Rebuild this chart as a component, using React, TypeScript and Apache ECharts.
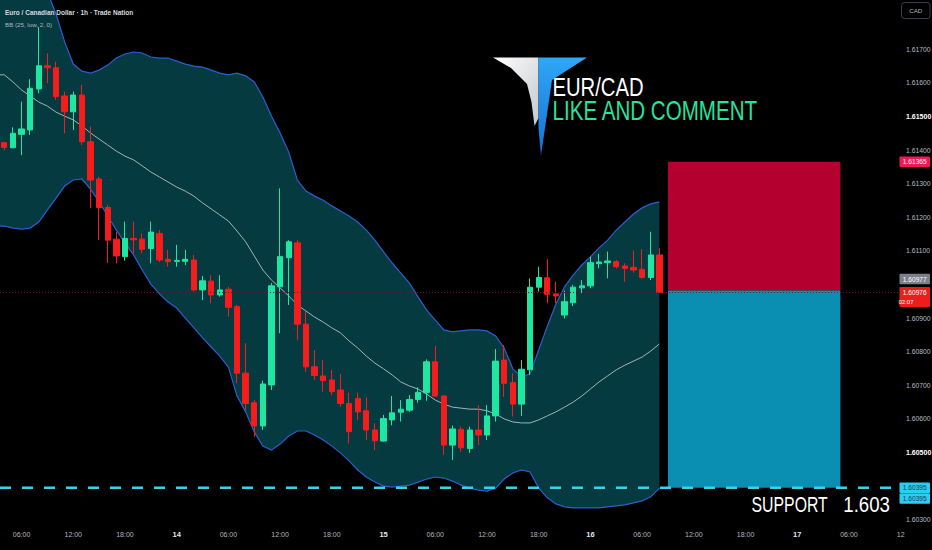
import React, { useEffect, useRef } from 'react';
import * as echarts from 'echarts';

// ---------- time slots (hourly, relative to day 14 00:00) ----------
const FIRST_HOUR = -20;
const SLOT_COUNT = 105;
const CATEGORIES: string[] = Array.from({ length: SLOT_COUNT }, (_, i) => {
  const h = FIRST_HOUR + i;
  const day = 14 + Math.floor(h / 24);
  const hh = ((h % 24) + 24) % 24;
  return `${day} ${String(hh).padStart(2, '0')}:00`;
});

// ---------- candles (EUR/CAD 1h) ----------
const OPEN = [
  1.61422, 1.61407, 1.61447, 1.6146, 1.61582, 1.61651, 1.61645, 1.61561, 1.61514, 1.61564,
  1.61425, 1.61314, 1.61229, 1.61135, 1.61083, 1.61137, 1.61135, 1.61107, 1.61152, 1.61075,
  1.61069, 1.61069, 1.61073, 1.60984, 1.6101, 1.60969, 1.60986, 1.60934, 1.60736, 1.60648,
  1.60579, 1.60701, 1.60993, 1.6108, 1.61124, 1.60882, 1.60755, 1.60728, 1.60716, 1.60686,
  1.60646, 1.60661, 1.60624, 1.60567, 1.60534, 1.60597, 1.6062, 1.60626, 1.60658, 1.60678,
  1.6077, 1.60668, 1.60522, 1.60569, 1.60512, 1.60567, 1.60552, 1.60609, 1.60775, 1.60708,
  1.60644, 1.60746, 1.60992, 1.6102, 1.60972, 1.60909, 1.60946, 1.6099, 1.60996, 1.61062,
  1.61065, 1.61068, 1.61055, 1.61051, 1.61045, 1.61021, 1.61088,
];
const HIGH = [
  1.61425, 1.61468, 1.61544, 1.61611, 1.61766, 1.61688, 1.61663, 1.61574, 1.61574, 1.61594,
  1.6147, 1.61321, 1.61237, 1.61156, 1.61187, 1.61187, 1.61152, 1.61187, 1.61162, 1.61103,
  1.61118, 1.61103, 1.61088, 1.61025, 1.61028, 1.61028, 1.60993, 1.60939, 1.60825, 1.60656,
  1.60714, 1.61004, 1.61286, 1.61132, 1.61132, 1.60919, 1.60805, 1.60775, 1.60746, 1.60734,
  1.60678, 1.60678, 1.60664, 1.60587, 1.60612, 1.60668, 1.60656, 1.60671, 1.60694, 1.60777,
  1.60817, 1.60671, 1.6058, 1.60577, 1.60577, 1.60641, 1.60641, 1.60808, 1.6082, 1.60736,
  1.60775, 1.61018, 1.61053, 1.61075, 1.61008, 1.60982, 1.60999, 1.61013, 1.61083, 1.61091,
  1.61098, 1.61073, 1.61063, 1.61101, 1.61105, 1.61157, 1.61108,
];
const LOW = [
  1.614, 1.61405, 1.61385, 1.61445, 1.61569, 1.61599, 1.61549, 1.6145, 1.6146, 1.61415,
  1.61227, 1.61132, 1.61064, 1.61063, 1.61071, 1.61093, 1.61093, 1.61063, 1.61067, 1.61053,
  1.61053, 1.61058, 1.60979, 1.60954, 1.60944, 1.60964, 1.60904, 1.60706, 1.60626, 1.60547,
  1.60567, 1.60686, 1.60855, 1.60939, 1.60835, 1.6074, 1.60716, 1.60681, 1.60671, 1.60636,
  1.60527, 1.60597, 1.60537, 1.60507, 1.60532, 1.60581, 1.60592, 1.60621, 1.60648, 1.60654,
  1.60666, 1.60493, 1.60478, 1.60502, 1.60499, 1.60522, 1.60537, 1.60592, 1.60666, 1.60607,
  1.60609, 1.60731, 1.60979, 1.60944, 1.60944, 1.60899, 1.60936, 1.60974, 1.60989, 1.61048,
  1.61018, 1.61048, 1.61008, 1.61035, 1.61018, 1.61013, 1.60976,
];
const CLOSE = [
  1.61408, 1.6145, 1.61463, 1.61584, 1.61651, 1.61645, 1.61559, 1.61514, 1.61564, 1.61425,
  1.61311, 1.61229, 1.61132, 1.61085, 1.61137, 1.61133, 1.61105, 1.61156, 1.61073, 1.61068,
  1.61071, 1.61075, 1.60984, 1.61011, 1.60969, 1.60984, 1.60932, 1.60736, 1.60646, 1.60579,
  1.60704, 1.60996, 1.61083, 1.61127, 1.60882, 1.60755, 1.60729, 1.60714, 1.60681, 1.60646,
  1.60562, 1.60621, 1.60567, 1.60535, 1.60601, 1.60618, 1.60629, 1.60658, 1.60679, 1.6077,
  1.60668, 1.60522, 1.6057, 1.60514, 1.60567, 1.60552, 1.60609, 1.60772, 1.60706, 1.60644,
  1.60748, 1.60992, 1.61021, 1.60971, 1.60966, 1.60949, 1.60992, 1.60996, 1.61065, 1.61067,
  1.6107, 1.61053, 1.61048, 1.61043, 1.61021, 1.61088, 1.60976,
];

// ---------- Bollinger Bands BB(25, low, 2, 0) ----------
const BB_UPPER = [
  1.62055, 1.62031, 1.62001, 1.61966, 1.61921, 1.61871, 1.61805, 1.61722, 1.61656, 1.61635,
  1.61629, 1.61638, 1.61653, 1.61674, 1.61686, 1.61692, 1.61689, 1.61677, 1.61674, 1.61674,
  1.61665, 1.61656, 1.6165, 1.61647, 1.61638, 1.61629, 1.61624, 1.61629, 1.61621, 1.61603,
  1.61558, 1.61501, 1.61451, 1.61394, 1.61311, 1.61278, 1.61263, 1.61251, 1.61234, 1.61219,
  1.61204, 1.61186, 1.61162, 1.61132, 1.61097, 1.61064, 1.61034, 1.61004, 1.60963, 1.60924,
  1.60894, 1.60865, 1.60859, 1.60862, 1.60865, 1.60865, 1.60862, 1.60847, 1.60811, 1.60749,
  1.60725, 1.60734, 1.60805, 1.60876, 1.60942, 1.60993, 1.61028, 1.61058, 1.61082, 1.61109,
  1.61132, 1.61162, 1.61186, 1.6121, 1.61228, 1.6124, 1.61246,
];
const BB_MIDDLE = [
  1.61624, 1.61603, 1.61579, 1.61561, 1.61543, 1.61531, 1.61513, 1.61501, 1.6149, 1.61472,
  1.61451, 1.61433, 1.61415, 1.61397, 1.61382, 1.61371, 1.61353, 1.61335, 1.6132, 1.61305,
  1.6129, 1.61278, 1.61263, 1.61243, 1.61225, 1.61207, 1.61189, 1.61159, 1.61127, 1.61085,
  1.61043, 1.61013, 1.6099, 1.60966, 1.60939, 1.60921, 1.60903, 1.60888, 1.60871, 1.60856,
  1.60832, 1.60811, 1.60787, 1.60766, 1.60749, 1.60731, 1.6071, 1.60698, 1.60689, 1.60674,
  1.60656, 1.60644, 1.60635, 1.60632, 1.60629, 1.60629, 1.60624, 1.60615, 1.606, 1.60591,
  1.60588, 1.60588, 1.60597, 1.60609, 1.60621, 1.60635, 1.6065, 1.60668, 1.60689, 1.6071,
  1.60728, 1.60746, 1.6076, 1.60772, 1.60784, 1.60802, 1.60823,
];
const BB_LOWER = [
  1.61174, 1.61168, 1.61165, 1.61168, 1.61186, 1.61222, 1.61257, 1.61293, 1.61311, 1.61314,
  1.61284, 1.61246, 1.61204, 1.61162, 1.61124, 1.61088, 1.61043, 1.61001, 1.60972, 1.60948,
  1.6093, 1.609, 1.60871, 1.60841, 1.60814, 1.60787, 1.60754, 1.60668, 1.60621, 1.60561,
  1.60519, 1.60507, 1.60525, 1.60549, 1.60564, 1.60564, 1.60552, 1.60537, 1.60519, 1.60499,
  1.60475, 1.60448, 1.60427, 1.60412, 1.604, 1.60397, 1.604, 1.60403, 1.60412, 1.60421,
  1.60427, 1.60424, 1.60415, 1.60403, 1.60394, 1.60388, 1.60385, 1.60394, 1.60421, 1.60439,
  1.60448, 1.60442, 1.60394, 1.60365, 1.60347, 1.60338, 1.60335, 1.60335, 1.60335, 1.60335,
  1.60338, 1.60341, 1.60344, 1.6035, 1.60356, 1.60368, 1.60394,
];

// ---------- levels ----------
const Y_MIN = 1.603;
const Y_MAX = 1.618;
const Y_STEP = 0.001;
const CURRENT_PRICE = 1.60976;
const SUPPORT_LEVEL = 1.60395;
const POSITION_LEVELS = [1.61365, 1.60982, 1.60395]; // stop, entry, target
const POSITION_SLOTS = [77, 97];
const TAG_VALUES = [1.61365, 1.60977, 1.60976, 1.60395, 1.60395];
const TAG_SUBTEXT = ['', '', '02:07', '', ''];

// ---------- styles ----------
const UP = '#1fe6a0';
const DOWN = '#f71c1c';
const BAND_FILL = '#053a41';
const BAND_LINE = '#2b5fd0';
const MID_LINE = '#9db6b8';
const TAG_STYLES = [
  { bg: '#ef1859', fg: '#ffffff', dy: 0 },
  { bg: '#7d808a', fg: '#ffffff', dy: -13.2 },
  { bg: '#f01c1c', fg: '#ffffff', dy: 0 },
  { bg: '#2ccdf2', fg: '#123a57', dy: 0 },
  { bg: '#2ccdf2', fg: '#123a57', dy: 10.8 },
];
const LEVEL_STYLES = [
  { stroke: '#6e1717', lineWidth: 1, lineDash: [1, 2], endX: 905 },
  { stroke: '#36d3ea', lineWidth: 2.5, lineDash: [11, 11], endX: 896 },
];
const FONT = '"Liberation Sans", Arial, sans-serif';

function buildOption(): any {
  const candles = OPEN.map((o, i) => [o, CLOSE[i], LOW[i], HIGH[i]]);

  const bandSeries = {
    type: 'custom',
    coordinateSystem: 'cartesian2d',
    silent: true,
    z: 1,
    clip: false,
    data: [[0, 1.61]],
    renderItem: (params: any, api: any) => {
      if (params.dataIndex !== 0) return null;
      const half = api.size([1, 0])[0] / 2;
      const pts = (arr: number[]) => {
        const p = arr.map((v, i) => api.coord([i, v]));
        return [[p[0][0] - half, p[0][1]], ...p];
      };
      const up = pts(BB_UPPER);
      const mid = pts(BB_MIDDLE);
      const lo = pts(BB_LOWER);
      return {
        type: 'group',
        children: [
          { type: 'polygon', shape: { points: [...up, ...lo.slice().reverse()] }, style: { fill: BAND_FILL } },
          { type: 'polyline', shape: { points: up }, style: { stroke: BAND_LINE, lineWidth: 1.2, fill: null } },
          { type: 'polyline', shape: { points: lo }, style: { stroke: BAND_LINE, lineWidth: 1.2, fill: null } },
          { type: 'polyline', shape: { points: mid }, style: { stroke: MID_LINE, lineWidth: 1, fill: null } },
        ],
      };
    },
  };

  const candleSeries = {
    type: 'candlestick',
    z: 3,
    barWidth: 5.8,
    data: candles,
    itemStyle: {
      color: UP,
      color0: DOWN,
      borderColor: UP,
      borderColor0: DOWN,
      borderColorDoji: UP,
      borderWidth: 1,
    },
    markArea: {
      silent: true,
      data: [
        [
          { xAxis: CATEGORIES[POSITION_SLOTS[0]], yAxis: POSITION_LEVELS[1], itemStyle: { color: '#b3002f', opacity: 1 } },
          { xAxis: CATEGORIES[POSITION_SLOTS[1]], yAxis: POSITION_LEVELS[0] },
        ],
        [
          { xAxis: CATEGORIES[POSITION_SLOTS[0]], yAxis: POSITION_LEVELS[2], itemStyle: { color: '#0a8fb3', opacity: 1 } },
          { xAxis: CATEGORIES[POSITION_SLOTS[1]], yAxis: POSITION_LEVELS[1] },
        ],
      ],
    },
  };

  const levelSeries = {
    type: 'custom',
    coordinateSystem: 'cartesian2d',
    silent: true,
    z: 5,
    clip: false,
    data: [[0, CURRENT_PRICE], [0, SUPPORT_LEVEL]],
    renderItem: (params: any, api: any) => {
      const st = LEVEL_STYLES[params.dataIndex];
      const p = api.coord([0, api.value(1)]);
      const half = api.size([1, 0])[0] / 2;
      return {
        type: 'line',
        shape: { x1: p[0] - half, y1: p[1], x2: st.endX, y2: p[1] },
        style: { stroke: st.stroke, lineWidth: st.lineWidth, lineDash: st.lineDash },
      };
    },
  };

  const tagSeries = {
    type: 'custom',
    coordinateSystem: 'cartesian2d',
    silent: true,
    z: 10,
    clip: false,
    data: TAG_VALUES.map((v) => [0, v]),
    renderItem: (params: any, api: any) => {
      const i = params.dataIndex;
      const st = TAG_STYLES[i];
      const y = api.coord([0, api.value(1)])[1] + st.dy;
      const sub = TAG_SUBTEXT[i];
      const h = sub ? 20 : 10.5;
      const top = sub ? y - 5.5 : y - 5.25;
      const children: any[] = [
        { type: 'rect', shape: { x: 899.5, y: top, width: 30.5, height: h, r: 1 }, style: { fill: st.bg } },
        {
          type: 'text',
          style: {
            text: TAG_VALUES[i].toFixed(5), x: 914.75, y, align: 'center', verticalAlign: 'middle',
            fill: st.fg, fontSize: 6.6, fontFamily: FONT,
          },
        },
      ];
      if (sub) {
        children.push({
          type: 'text',
          style: {
            text: sub, x: 906, y: y + 9.8, align: 'center', verticalAlign: 'middle',
            fill: st.fg, fontSize: 6, fontFamily: FONT,
          },
        });
      }
      return { type: 'group', children };
    },
  };

  const whiteGrad = new echarts.graphic.LinearGradient(0, 0, 1, 1, [
    { offset: 0, color: '#ffffff' },
    { offset: 1, color: '#c4c8cc' },
  ]);
  const blueGrad = new echarts.graphic.LinearGradient(0, 0, 0, 1, [
    { offset: 0, color: '#2fa7f7' },
    { offset: 1, color: '#1470d2' },
  ]);

  return {
    animation: false,
    backgroundColor: '#000000',
    textStyle: { fontFamily: FONT },
    grid: {
      left: 0,
      top: 15.7,
      width: 905,
      height: 504,
      containLabel: false,
      outerBoundsMode: 'none',
      show: false,
    },
    xAxis: {
      type: 'category',
      data: CATEGORIES,
      boundaryGap: true,
      axisLine: { show: false },
      axisTick: { show: false },
      splitLine: { show: false },
      axisLabel: {
        margin: 11,
        color: '#b2b5be',
        fontSize: 7,
        fontFamily: FONT,
        interval: (_idx: number, value: string) => parseInt(value.slice(-5, -3), 10) % 6 === 0,
        formatter: (value: string, index: number) => {
          const [d, t] = value.split(' ');
          if (t === '00:00') return `{d|${d}}`;
          if (index === SLOT_COUNT - 1) return t.slice(0, 2);
          return t;
        },
        rich: {
          d: { fontWeight: 'bold', color: '#e3e5ea', fontSize: 7.5, fontFamily: FONT },
        },
      },
    },
    yAxis: {
      type: 'value',
      position: 'right',
      min: Y_MIN,
      max: Y_MAX,
      interval: Y_STEP,
      scale: true,
      axisLine: { show: false },
      axisTick: { show: false },
      splitLine: { show: false },
      axisLabel: {
        margin: 1,
        color: '#b8bbc4',
        fontSize: 6.8,
        fontFamily: FONT,
        formatter: (v: number) => {
          const k = Math.round(v * 1000);
          if (k === 1618 || k === 1610 || k === 1604) return '';
          const s = (k / 1000).toFixed(5);
          return k === 1615 || k === 1605 ? `{b|${s}}` : s;
        },
        rich: {
          b: { fontWeight: 'bold', color: '#ffffff', fontSize: 7, fontFamily: FONT },
        },
      },
    },
    series: [bandSeries, candleSeries, levelSeries, tagSeries],
    graphic: [
      {
        type: 'text', x: 5, y: 12.3, scaleX: 0.93, z: 20,
        style: {
          text: 'Euro / Canadian Dollar · 1h · Trade Nation', fill: '#d7d9df',
          fontSize: 7, fontWeight: 'bold', fontFamily: FONT, verticalAlign: 'middle',
        },
      },
      {
        type: 'text', x: 5, y: 24, z: 20,
        style: { text: 'BB (25, low, 2, 0)', fill: '#b2b5be', fontSize: 6.2, fontFamily: FONT, verticalAlign: 'middle' },
      },
      {
        type: 'rect', z: 20,
        shape: { x: 901.5, y: 2.5, width: 28.5, height: 16, r: 3 },
        style: { fill: '#000000', stroke: '#3a3e48', lineWidth: 1 },
      },
      {
        type: 'text', x: 915.75, y: 10.5, z: 21,
        style: { text: 'CAD', fill: '#b2b5be', fontSize: 6.2, fontFamily: FONT, align: 'center', verticalAlign: 'middle' },
      },
      {
        type: 'polygon', z: 20,
        shape: { points: [[493, 57.5], [538.5, 57.5], [538.5, 118], [534.5, 126], [531.5, 102], [527, 84], [511, 68]] },
        style: { fill: whiteGrad },
      },
      {
        type: 'polygon', z: 20,
        shape: { points: [[538.5, 57.5], [587, 57.5], [552, 80], [541, 155.5], [538.5, 128]] },
        style: { fill: blueGrad },
      },
      {
        type: 'text', x: 552.5, y: 87.5, scaleX: 0.81, z: 21,
        style: { text: 'EUR/CAD', fill: '#ffffff', fontSize: 25, fontFamily: FONT, verticalAlign: 'middle' },
      },
      {
        type: 'text', x: 552.5, y: 110.5, scaleX: 0.735, z: 21,
        style: { text: 'LIKE AND COMMENT', fill: '#27e39d', fontSize: 28, fontFamily: FONT, verticalAlign: 'middle' },
      },
      {
        type: 'text', x: 751.5, y: 505, scaleX: 0.737, z: 21,
        style: { text: 'SUPPORT', fill: '#ffffff', fontSize: 21.5, fontFamily: FONT, verticalAlign: 'middle' },
      },
      {
        type: 'text', x: 890, y: 505, scaleX: 0.868, z: 21,
        style: { text: '1.603', fill: '#ffffff', fontSize: 21.5, fontFamily: FONT, align: 'right', verticalAlign: 'middle' },
      },
    ],
  };
}

export default function App() {
  const ref = useRef<HTMLDivElement>(null);
  useEffect(() => {
    document.body.style.margin = '0';
    document.body.style.background = '#000000';
    const chart = echarts.init(ref.current as HTMLDivElement, null, { renderer: 'svg' });
    chart.setOption(buildOption());
    return () => {
      chart.dispose();
    };
  }, []);
  return <div ref={ref} style={{ width: 932, height: 550, background: '#000000' }} />;
}
